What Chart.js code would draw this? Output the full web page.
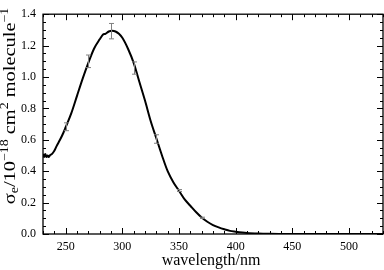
<!DOCTYPE html>
<html>
<head>
<meta charset="utf-8">
<script src="https://cdn.jsdelivr.net/npm/chart.js@4"></script>
<style>
  body { margin: 0; background: #fff; }
  #wrap { width: 384px; height: 270px; position: relative; }
</style>
</head>
<body>
<div id="wrap"><canvas id="grafico"></canvas></div>
<script>
// absorption cross section vs wavelength
const wavelength = [230, 231, 232, 233, 234, 235, 236, 238, 240, 242, 245, 248, 250, 255, 260, 265, 270, 275, 280, 283, 285, 288, 291, 294, 297, 300, 305, 310, 315, 320, 325, 330, 335, 340, 345, 350, 355, 360, 365, 370, 375, 380, 385, 390, 395, 400, 410, 420, 430, 440, 460, 480, 500, 520, 530];
const crossSection = [0.51, 0.49, 0.51, 0.49, 0.50, 0.49, 0.50, 0.51, 0.53, 0.56, 0.60, 0.645, 0.68, 0.77, 0.88, 0.99, 1.09, 1.18, 1.24, 1.27, 1.275, 1.29, 1.295, 1.29, 1.275, 1.25, 1.18, 1.09, 0.97, 0.85, 0.72, 0.61, 0.50, 0.40, 0.33, 0.275, 0.22, 0.18, 0.14, 0.105, 0.078, 0.057, 0.042, 0.03, 0.02, 0.015, 0.007, 0.003, 0.001, 0, 0, 0, 0, 0, 0];

// error bars
const errWavelength = [250, 270, 290, 310, 330, 350, 370];
const errCenter = [0.683, 1.10, 1.292, 1.057, 0.605, 0.277, 0.103];
const errHalf = [0.025, 0.04, 0.049, 0.039, 0.027, 0.006, 0.004];

const xTicks = [250, 300, 350, 400, 450, 500];
const yTicks = [0.0, 0.2, 0.4, 0.6, 0.8, 1.0, 1.2, 1.4];

const serif = '"Liberation Serif", "Times New Roman", serif';

const errorBars = {
    id: 'errorBars',
    afterDatasetsDraw(chart) {
        const ctx = chart.ctx, xs = chart.scales.x, ys = chart.scales.y;
        ctx.save();
        ctx.strokeStyle = '#808080';
        ctx.lineWidth = 1;
        errWavelength.forEach((w, i) => {
            const px = Math.round(xs.getPixelForValue(w)) + 0.5;
            const top = ys.getPixelForValue(errCenter[i] + errHalf[i]);
            const bot = ys.getPixelForValue(errCenter[i] - errHalf[i]);
            ctx.beginPath();
            ctx.moveTo(px, top); ctx.lineTo(px, bot);
            ctx.moveTo(px - 2.5, top); ctx.lineTo(px + 2.5, top);
            ctx.moveTo(px - 2.5, bot); ctx.lineTo(px + 2.5, bot);
            ctx.stroke();
        });
        ctx.restore();
    }
};

function drawRich(ctx, parts, size) {
    const widths = parts.map(p => {
        ctx.font = ((p.sup || p.sub) ? size * 0.68 : size) + 'px ' + serif;
        return ctx.measureText(p.t).width;
    });
    let x = -widths.reduce((a, b) => a + b, 0) / 2;
    parts.forEach((p, i) => {
        ctx.font = ((p.sup || p.sub) ? size * 0.68 : size) + 'px ' + serif;
        const dy = p.sup ? -size * 0.38 : (p.sub ? size * 0.22 : 0);
        ctx.fillText(p.t, x, dy);
        x += widths[i];
    });
}

const frame = {
    id: 'frame',
    afterDraw(chart) {
        const ctx = chart.ctx, a = chart.chartArea, xs = chart.scales.x, ys = chart.scales.y;
        ctx.save();
        ctx.strokeStyle = '#000';
        ctx.lineWidth = 1.3;
        ctx.strokeRect(a.left, a.top, a.right - a.left, a.bottom - a.top);
        ctx.lineWidth = 1;
        ctx.beginPath();
        for (let w = 230; w <= 530; w += 10) {
            const px = Math.round(xs.getPixelForValue(w)) + 0.5;
            const len = xTicks.includes(w) ? 6 : 3;
            ctx.moveTo(px, a.bottom); ctx.lineTo(px, a.bottom - len);
            ctx.moveTo(px, a.top); ctx.lineTo(px, a.top + len);
        }
        for (let k = 0; k <= 28; k++) {
            const py = Math.round(ys.getPixelForValue(k * 0.05)) + 0.5;
            const len = k % 4 === 0 ? 6 : 3;
            ctx.moveTo(a.left, py); ctx.lineTo(a.left + len, py);
            ctx.moveTo(a.right, py); ctx.lineTo(a.right - len, py);
        }
        ctx.stroke();

        // axis titles
        ctx.fillStyle = '#000';
        ctx.textAlign = 'center';
        ctx.textBaseline = 'middle';
        ctx.font = '16px ' + serif;
        ctx.fillText('wavelength/nm', 211, 261);

        // y title is stretched along its length like in the source figure
        ctx.translate(11, 106);
        ctx.rotate(-Math.PI / 2);
        ctx.scale(1.2, 1);
        ctx.textAlign = 'left';
        drawRich(ctx, [
            { t: 'σ' }, { t: 'e', sub: true }, { t: '/10' }, { t: '−18', sup: true },
            { t: ' cm' }, { t: '2', sup: true }, { t: ' molecule' }, { t: '−1', sup: true }
        ], 17);
        ctx.restore();
    }
};

new Chart(document.getElementById('grafico'), {
    type: 'line',
    data: {
        datasets: [{
            data: wavelength.map((w, i) => ({ x: w, y: crossSection[i] })),
            borderColor: '#000',
            borderWidth: 2,
            pointRadius: 0,
            cubicInterpolationMode: 'monotone',
            fill: false
        }]
    },
    options: {
        responsive: true,
        maintainAspectRatio: false,
        animation: false,
        layout: { padding: { top: 5, right: 1, left: 0, bottom: 0 } },
        plugins: { legend: { display: false }, tooltip: { enabled: false } },
        scales: {
            x: {
                type: 'linear', min: 230, max: 530,
                afterBuildTicks: s => { s.ticks = xTicks.map(v => ({ value: v })); },
                afterFit: s => { s.height = 36; },
                grid: { display: false, drawTicks: false },
                border: { display: false },
                ticks: { color: '#000', font: { family: serif, size: 12 }, padding: 6, maxRotation: 0 }
            },
            y: {
                min: 0, max: 1.4,
                afterBuildTicks: s => { s.ticks = yTicks.map(v => ({ value: v })); },
                afterFit: s => { s.width = 43; },
                grid: { display: false, drawTicks: false },
                border: { display: false },
                ticks: { color: '#000', font: { family: serif, size: 12 }, padding: 7,
                         callback: v => v.toFixed(1) }
            }
        }
    },
    plugins: [errorBars, frame]
});
</script>
</body>
</html>
